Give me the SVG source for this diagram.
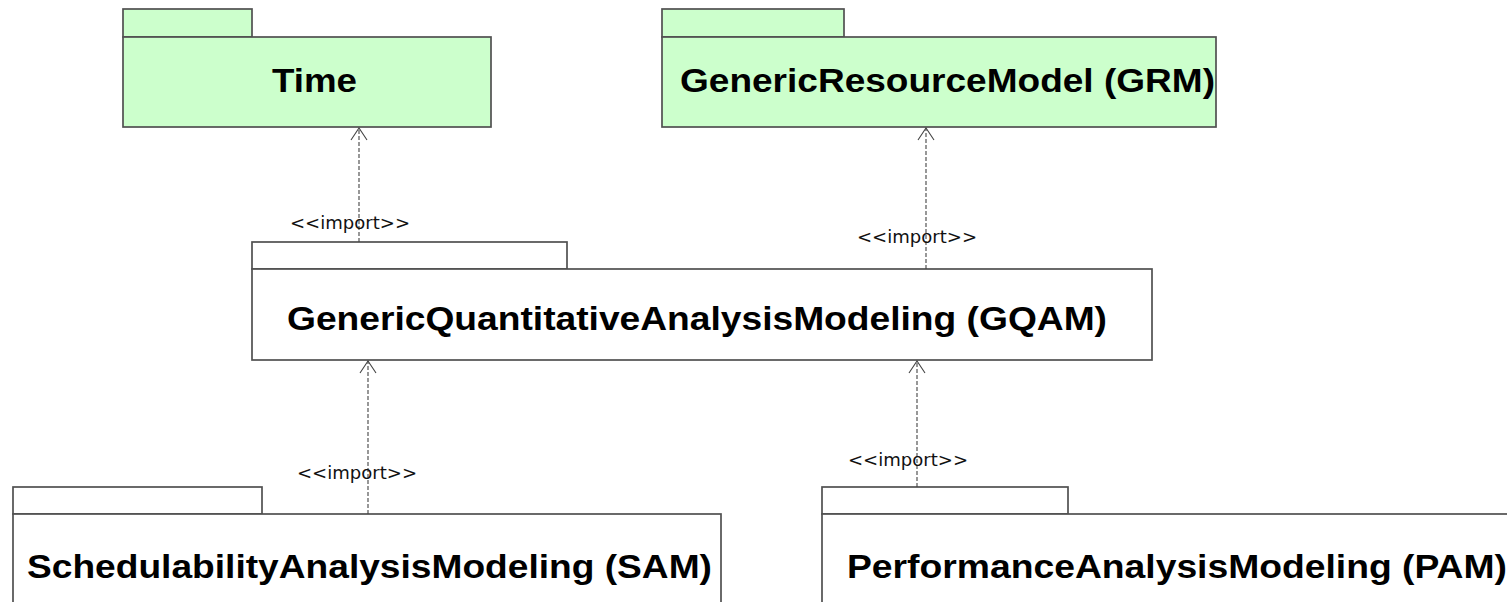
<svg xmlns="http://www.w3.org/2000/svg" width="1507" height="602" viewBox="0 0 1507 602">
  <defs>
    <style>
      .pkg { stroke: #505050; stroke-width: 1.7; }
      .green { fill: #ccffcc; }
      .white { fill: #ffffff; }
      .title { font-family: "Liberation Sans", Arial, sans-serif; font-weight: bold; font-size: 34px; fill: #000000; }
      .lbl { font-family: "DejaVu Sans", sans-serif; font-size: 17.5px; fill: #111111; }
      .dep { stroke: #444444; stroke-width: 1.1; stroke-dasharray: 4 2; fill: none; }
    </style>
    <marker id="open" viewBox="0 0 14 18" refX="13" refY="9" markerWidth="14" markerHeight="18" markerUnits="userSpaceOnUse" orient="auto">
      <path d="M1 1 L13 9 L1 17" fill="none" stroke="#444444" stroke-width="1.1"/>
    </marker>
  </defs>
  <rect width="1507" height="602" fill="#ffffff"/>

  <g id="node-time">
    <rect class="pkg green" x="123" y="9" width="129" height="28"/>
    <rect class="pkg green" x="123" y="37" width="368" height="90"/>
    <text class="title" x="272" y="92" textLength="85" lengthAdjust="spacingAndGlyphs">Time</text>
  </g>

  <g id="node-grm">
    <rect class="pkg green" x="662" y="9" width="182" height="28"/>
    <rect class="pkg green" x="662" y="37" width="554" height="90"/>
    <text class="title" x="680" y="92" textLength="535" lengthAdjust="spacingAndGlyphs">GenericResourceModel (GRM)</text>
  </g>

  <g id="node-gqam">
    <rect class="pkg white" x="252" y="242" width="315" height="27"/>
    <rect class="pkg white" x="252" y="269" width="900" height="91"/>
    <text class="title" x="287" y="330" textLength="820" lengthAdjust="spacingAndGlyphs">GenericQuantitativeAnalysisModeling (GQAM)</text>
  </g>

  <g id="node-sam">
    <rect class="pkg white" x="13" y="487" width="249" height="27"/>
    <rect class="pkg white" x="13" y="514" width="708" height="100"/>
    <text class="title" x="27" y="578" textLength="685" lengthAdjust="spacingAndGlyphs">SchedulabilityAnalysisModeling (SAM)</text>
  </g>

  <g id="node-pam">
    <rect class="pkg white" x="822" y="487" width="246" height="27"/>
    <rect class="pkg white" x="822" y="514" width="700" height="100"/>
    <text class="title" x="847" y="578" textLength="660" lengthAdjust="spacingAndGlyphs">PerformanceAnalysisModeling (PAM)</text>
  </g>

  <g id="connectors">
    <line class="dep" x1="359" y1="242" x2="359" y2="128" marker-end="url(#open)"/>
    <text class="lbl" x="290" y="229" textLength="120" lengthAdjust="spacingAndGlyphs">&lt;&lt;import&gt;&gt;</text>

    <line class="dep" x1="926" y1="269" x2="926" y2="128" marker-end="url(#open)"/>
    <text class="lbl" x="857" y="243" textLength="120" lengthAdjust="spacingAndGlyphs">&lt;&lt;import&gt;&gt;</text>

    <line class="dep" x1="368" y1="514" x2="368" y2="361" marker-end="url(#open)"/>
    <text class="lbl" x="297" y="479" textLength="120" lengthAdjust="spacingAndGlyphs">&lt;&lt;import&gt;&gt;</text>

    <line class="dep" x1="917" y1="487" x2="917" y2="361" marker-end="url(#open)"/>
    <text class="lbl" x="848" y="466" textLength="120" lengthAdjust="spacingAndGlyphs">&lt;&lt;import&gt;&gt;</text>
  </g>
</svg>
